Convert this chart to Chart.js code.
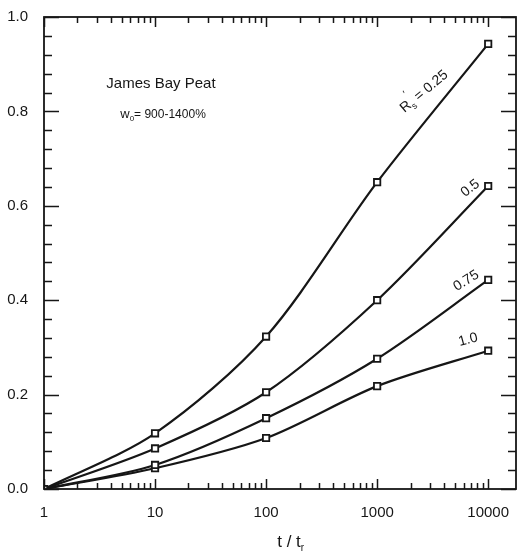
<!DOCTYPE html>
<html>
<head>
<meta charset="utf-8">
<script src="https://cdn.jsdelivr.net/npm/chart.js@4/dist/chart.umd.min.js"></script>
<style>
  html, body { margin: 0; padding: 0; background: #fff; }
  #wrap { width: 524px; height: 560px; }
</style>
</head>
<body>
<div id="wrap"><canvas id="c" width="524" height="560"></canvas></div>
<script>
// ---- data ----
const timeRatio = [1, 10, 100, 1000, 10000];
const seriesR025 = [0, 0.118, 0.323, 0.650, 0.943];
const seriesR050 = [0, 0.086, 0.205, 0.400, 0.642];
const seriesR075 = [0, 0.051, 0.150, 0.276, 0.443];
const seriesR100 = [0, 0.044, 0.108, 0.218, 0.293];
const seriesLabels = ['0.25', '0.5', '0.75', '1.0'];
const xTickLabels = ['1', '10', '100', '1000', '10000'];
const yTickLabels = ['0.0', '0.2', '0.4', '0.6', '0.8', '1.0'];

const INK = '#161616';
const FONT = '"Liberation Sans", Arial, Helvetica, sans-serif';

function mk(values, label) {
  return {
    label: label,
    data: timeRatio.map((t, i) => ({ x: t, y: values[i] })),
    borderColor: INK,
    borderWidth: 2.2,
    tension: 0.3,
    pointStyle: 'rect',
    pointRadius: 4.5,
    pointBorderWidth: 1.8,
    pointBackgroundColor: '#fff',
    pointBorderColor: INK,
    fill: false
  };
}

const framePlugin = {
  id: 'frame',
  afterDraw(chart) {
    const ctx = chart.ctx;
    const a = chart.chartArea;
    const xs = chart.scales.x, ys = chart.scales.y;
    ctx.save();
    ctx.strokeStyle = INK;
    ctx.lineWidth = 1.8;
    ctx.strokeRect(a.left, a.top, a.right - a.left, a.bottom - a.top);
    ctx.lineWidth = 1.5;
    ctx.beginPath();
    for (let d = 0; d <= 4; d++) {
      for (let m = 1; m <= 9; m++) {
        const v = m * Math.pow(10, d);
        if (v > xs.max) break;
        const px = Math.round(xs.getPixelForValue(v)) + 0.5;
        const len = (m === 1) ? 10 : 6;
        ctx.moveTo(px, a.bottom); ctx.lineTo(px, a.bottom - len);
        ctx.moveTo(px, a.top); ctx.lineTo(px, a.top + len);
      }
    }
    for (let k = 0; k <= 25; k++) {
      const v = k * 0.04;
      const py = Math.round(ys.getPixelForValue(v)) + 0.5;
      const len = (k % 5 === 0) ? 15 : 8;
      ctx.moveTo(a.left, py); ctx.lineTo(a.left + len, py);
      ctx.moveTo(a.right, py); ctx.lineTo(a.right - len, py);
    }
    ctx.stroke();

    ctx.fillStyle = INK;
    ctx.textBaseline = 'middle';
    function P(x, y) { return [xs.getPixelForValue(x), ys.getPixelForValue(y)]; }

    let [px, py] = P(11.3, 0.859);
    ctx.font = '15px ' + FONT;
    ctx.textAlign = 'center';
    ctx.fillText('James Bay Peat', px, py);

    [px, py] = P(11.8, 0.793);
    const parts = [['w', 13, 0], ['0', 8, 4], ['= 900-1400%', 12, 0]];
    let total = 0;
    parts.forEach(p => { ctx.font = p[1] + 'px ' + FONT; total += ctx.measureText(p[0]).width; });
    let cx = px - total / 2;
    ctx.textAlign = 'left';
    parts.forEach(p => {
      ctx.font = p[1] + 'px ' + FONT;
      ctx.fillText(p[0], cx, py + p[2]);
      cx += ctx.measureText(p[0]).width;
    });

    function rotText(x, y, ang, segs) {
      const [qx, qy] = P(x, y);
      ctx.save();
      ctx.translate(qx, qy);
      ctx.rotate(ang * Math.PI / 180);
      let tw = 0;
      segs.forEach(s => { ctx.font = s[1] + 'px ' + FONT; tw += (s[3] === false ? 0 : ctx.measureText(s[0]).width); });
      let ox = -tw / 2;
      ctx.textAlign = 'left';
      segs.forEach(s => {
        ctx.font = s[1] + 'px ' + FONT;
        ctx.fillText(s[0], ox + (s[4] || 0), s[2]);
        if (s[3] !== false) ox += ctx.measureText(s[0]).width;
      });
      ctx.restore();
    }
    rotText(2650, 0.842, -40, [['R', 14, 0], ['\u2032', 10, -10, false, 2], ['s', 9, 5], [' = ' + seriesLabels[0], 14, 0]]);
    rotText(6890, 0.637, -38, [[seriesLabels[1], 14, 0]]);
    rotText(6340, 0.441, -32, [[seriesLabels[2], 14, 0]]);
    rotText(6600, 0.316, -15, [[seriesLabels[3], 14, 0]]);

    ctx.textAlign = 'left';
    ctx.font = '17px ' + FONT;
    const t1 = 't / t';
    const w1 = ctx.measureText(t1).width;
    const tx = 292 - (w1 + 6) / 2;
    ctx.fillText(t1, tx, 542);
    ctx.font = '10px ' + FONT;
    ctx.fillText('r', tx + w1, 548);
    ctx.restore();
  }
};

new Chart(document.getElementById('c'), {
  type: 'line',
  data: { datasets: [mk(seriesR025, seriesLabels[0]), mk(seriesR050, seriesLabels[1]), mk(seriesR075, seriesLabels[2]), mk(seriesR100, seriesLabels[3])] },
  options: {
    responsive: false,
    animation: false,
    devicePixelRatio: 1,
    layout: { padding: { top: 15, right: 8, left: 0, bottom: 0 } },
    plugins: { legend: { display: false }, tooltip: { enabled: false } },
    scales: {
      x: {
        type: 'logarithmic',
        min: 1, max: 17800,
        grid: { display: false },
        border: { display: false },
        afterBuildTicks(s) { s.ticks = timeRatio.map(v => ({ value: v })); },
        ticks: {
          autoSkip: false, maxRotation: 0,
          color: INK, padding: 7,
          font: { family: FONT, size: 15 },
          callback: (v, i) => xTickLabels[i]
        },
        afterFit(s) { s.height = 71; }
      },
      y: {
        type: 'linear',
        min: 0, max: 1,
        grid: { display: false },
        border: { display: false },
        afterBuildTicks(s) { s.ticks = yTickLabels.map(v => ({ value: parseFloat(v) })); },
        ticks: {
          color: INK, padding: 8,
          font: { family: FONT, size: 15 },
          callback: (v, i) => yTickLabels[i]
        },
        afterFit(s) { s.width = 44; }
      }
    }
  },
  plugins: [framePlugin]
});
</script>
</body>
</html>
